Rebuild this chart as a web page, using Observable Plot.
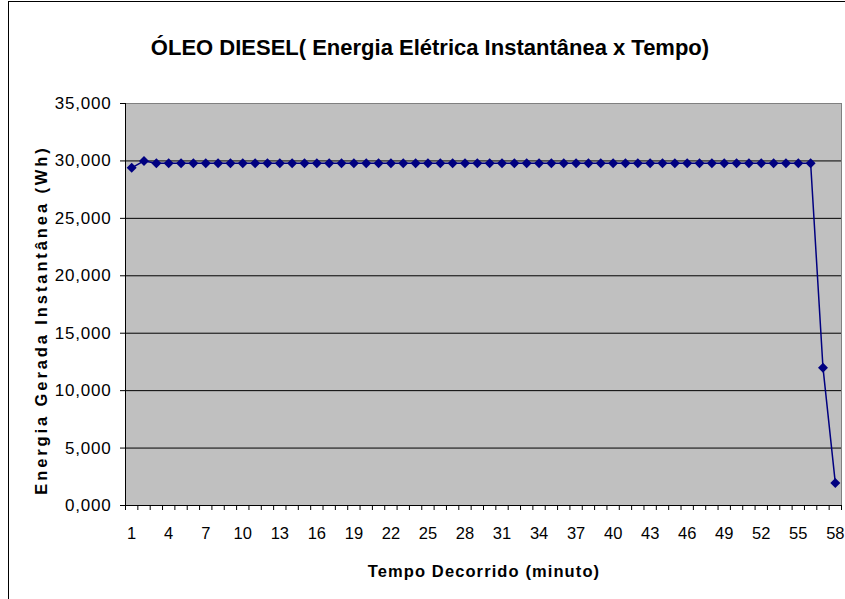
<!DOCTYPE html>
<html>
<head>
<meta charset="utf-8">
<script src="https://cdn.jsdelivr.net/npm/d3@7"></script>
<script src="https://cdn.jsdelivr.net/npm/@observablehq/plot@0.6"></script>
<style>
  body { margin: 0; background: white; }
  #wrap { position: relative; width: 845px; height: 599px; overflow: hidden; background: white; font-family: "Liberation Sans", Arial, sans-serif; }
  #border { position: absolute; left: 8px; top: 1px; width: 900px; height: 700px; border: 1px solid black; box-sizing: border-box; }
  #chart { position: absolute; left: 0; top: 0; }
  .lbl { position: absolute; font-weight: bold; color: black; white-space: nowrap; text-align: center; }
  #title { left: 0; width: 860px; top: 37px; font-size: 22px; line-height: 22px; }
  #xlabel { left: 284px; width: 400px; top: 563px; font-size: 16.5px; line-height: 16.5px; letter-spacing: 1.1px; }
  #ylabel { left: 41px; top: 320px; width: 420px; font-size: 16.5px; line-height: 16.5px; letter-spacing: 2.9px; transform: translate(-50%, -50%) rotate(-90deg); }
  .ytick text { letter-spacing: 0.8px; }
</style>
</head>
<body>
<div id="wrap">
  <div id="border"></div>
  <div id="chart"></div>
  <div id="title" class="lbl">ÓLEO DIESEL( Energia Elétrica Instantânea x Tempo)</div>
  <div id="ylabel" class="lbl">Energia Gerada Instantânea (Wh)</div>
  <div id="xlabel" class="lbl">Tempo Decorrido (minuto)</div>
</div>
<script>
const minutes = [1,2,3,4,5,6,7,8,9,10,11,12,13,14,15,16,17,18,19,20,21,22,23,24,25,26,27,28,29,30,
  31,32,33,34,35,36,37,38,39,40,41,42,43,44,45,46,47,48,49,50,51,52,53,54,55,56,57,58];
const energy = [29400,30000,29800,29800,29800,29800,29800,29800,29800,29800,
  29800,29800,29800,29800,29800,29800,29800,29800,29800,29800,
  29800,29800,29800,29800,29800,29800,29800,29800,29800,29800,
  29800,29800,29800,29800,29800,29800,29800,29800,29800,29800,
  29800,29800,29800,29800,29800,29800,29800,29800,29800,29800,
  29800,29800,29800,29800,29800,29800,12000,1950];
const xTickLabels = [1,4,7,10,13,16,19,22,25,28,31,34,37,40,43,46,49,52,55,58];
const yTicks = [0,5000,10000,15000,20000,25000,30000,35000];

const data = minutes.map((m, i) => ({minute: m, energy: energy[i]}));
const xBoundaries = [0].concat(minutes).map(m => m + 0.5);
const gridLines = yTicks.filter(v => v > 0 && v < 35000);
const fmtY = v => (v / 1000).toFixed(3).replace(".", ",");

const chart = Plot.plot({
  width: 845,
  height: 599,
  marginLeft: 125,
  marginRight: 4,
  marginTop: 103,
  marginBottom: 94,
  style: { background: "transparent", fontFamily: "'Liberation Sans', Arial, sans-serif", color: "black" },
  x: { type: "linear", domain: [0.5, 58.5] },
  y: { domain: [0, 35000] },
  marks: [
    Plot.frame({ fill: "#c0c0c0", stroke: "#808080" }),
    Plot.ruleY(gridLines, { stroke: "black", strokeWidth: 1 }),
    Plot.ruleY([0], { stroke: "black" }),
    Plot.ruleX([0.5], { stroke: "black" }),
    Plot.axisY({ ticks: yTicks, tickSize: 5, tickPadding: 9, tickFormat: fmtY, fontSize: 17, label: null, className: "ytick" }),
    Plot.axisX({ ticks: xBoundaries, tickSize: 5, tickFormat: () => "", label: null }),
    Plot.axisX({ ticks: xTickLabels, tickSize: 0, tickPadding: 22, tickFormat: d => String(d), fontSize: 16.5, label: null }),
    Plot.line(data, { x: "minute", y: "energy", stroke: "#000080", strokeWidth: 1.5 }),
    Plot.dot(data, { x: "minute", y: "energy", symbol: "diamond2", r: 4.5, fill: "#000080", stroke: "none" })
  ]
});
document.getElementById("chart").appendChild(chart);
</script>
</body>
</html>
